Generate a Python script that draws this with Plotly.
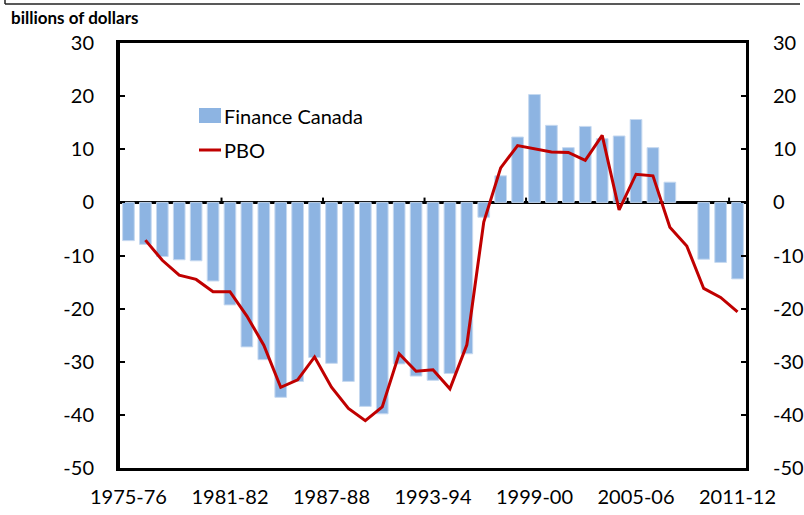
import plotly.graph_objects as go

years = [f"{y}-{str(y + 1)[-2:]}" for y in range(1975, 2012)]

finance_canada = [-7.2, -7.9, -10.2, -10.8, -11.0, -14.8, -19.3, -27.2, -29.6, -36.7,
                  -33.7, -29.2, -30.3, -33.7, -38.4, -39.8, -30.4, -32.7, -33.5, -32.2,
                  -28.5, -2.8, 5.0, 12.3, 20.3, 14.5, 10.3, 14.3, 12.0, 12.5,
                  15.6, 10.3, 3.8, None, -10.7, -11.3, -14.4]

pbo = [None, -7.1, -10.9, -13.7, -14.5, -16.8, -16.8, -21.4, -26.9, -34.8,
       -33.4, -29.1, -34.8, -38.8, -41.1, -38.5, -28.5, -31.8, -31.5, -35.1,
       -26.8, -3.7, 6.5, 10.7, 10.1, 9.5, 9.4, 7.9, 12.6, -1.4,
       5.3, 5.0, -4.7, -8.2, -16.2, -17.9, -20.6]

tick_labels = years[::6]
y_ticks = [30, 20, 10, 0, -10, -20, -30, -40, -50]
y_tick_text = [str(v) for v in y_ticks]

FONT = "Lato"
BAR_COLOR = "#8DB4E2"
LINE_COLOR = "#C00000"

W, H = 804, 515
L, R, T, B = 120, 58, 43, 47
PW, PH = W - L - R, H - T - B


def px(x):
    return (x - L) / PW


def py(y):
    return (H - B - y) / PH


fig = go.Figure()
fig.add_trace(go.Bar(
    x=years, y=finance_canada, name="Finance Canada", showlegend=False,
    marker=dict(color=BAR_COLOR, line=dict(color="#C6D9F0", width=1)),
))
fig.add_trace(go.Scatter(
    x=years, y=pbo, name="PBO", mode="lines", showlegend=False,
    line=dict(color=LINE_COLOR, width=3),
))
# invisible trace to activate the right axis
fig.add_trace(go.Scatter(x=years, y=pbo, yaxis="y2", mode="lines",
                         line=dict(width=0), hoverinfo="skip", showlegend=False,
                         opacity=0))

# category tick marks on the zero line (every 6 categories)
for k in range(6, len(years), 6):
    fig.add_shape(type="line", xref="x", yref="y", x0=k - 0.5, x1=k - 0.5,
                  y0=0, y1=0.9, line=dict(color="black", width=2))

# clipped title box at the very top
fig.add_shape(type="line", xref="paper", yref="paper", x0=px(5), x1=px(800),
              y0=py(4), y1=py(4), line=dict(color="#222", width=1.5))
fig.add_shape(type="line", xref="paper", yref="paper", x0=px(5), x1=px(5),
              y0=py(4), y1=py(-2), line=dict(color="#222", width=1.5))

fig.add_annotation(text="<b>billions of dollars</b>", xref="paper", yref="paper",
                   x=px(9), y=py(18), xanchor="left", yanchor="middle",
                   showarrow=False, font=dict(family=FONT, size=17, color="black"))

# manual legend
fig.add_shape(type="rect", xref="paper", yref="paper", x0=px(199), x1=px(221),
              y0=py(123), y1=py(108), line=dict(width=0), fillcolor=BAR_COLOR)
fig.add_annotation(text="Finance Canada", xref="paper", yref="paper",
                   x=px(222), y=py(116), xanchor="left", yanchor="middle",
                   showarrow=False, font=dict(family=FONT, size=20, color="black"))
fig.add_shape(type="line", xref="paper", yref="paper", x0=px(199), x1=px(221),
              y0=py(150), y1=py(150), line=dict(color=LINE_COLOR, width=3))
fig.add_annotation(text="PBO", xref="paper", yref="paper",
                   x=px(222), y=py(150), xanchor="left", yanchor="middle",
                   showarrow=False, font=dict(family=FONT, size=20, color="black"))

fig.update_layout(
    width=W, height=H,
    margin=dict(l=L, r=R, t=T, b=B, autoexpand=False),
    paper_bgcolor="white", plot_bgcolor="white",
    font=dict(family=FONT, size=20, color="black"),
    bargap=0.31,
    showlegend=False,
    xaxis=dict(
        type="category", tickmode="array", tickvals=tick_labels, ticktext=tick_labels,
        showline=True, linecolor="black", linewidth=3, mirror=True,
        ticks="", showgrid=False, ticklabelstandoff=9, automargin=False,
        range=[-0.5, len(years) - 0.5],
    ),
    yaxis=dict(
        range=[-50, 30], tickmode="array", tickvals=y_ticks, ticktext=y_tick_text,
        showgrid=False, showline=True, linecolor="black", linewidth=4, mirror=False,
        ticks="inside", ticklen=5, tickwidth=2, tickcolor="black",
        zeroline=True, zerolinecolor="black", zerolinewidth=3,
        ticklabelstandoff=18, automargin=False,
    ),
    yaxis2=dict(
        range=[-50, 30], tickmode="array", tickvals=y_ticks, ticktext=y_tick_text,
        overlaying="y", side="right",
        showgrid=False, showline=True, linecolor="black", linewidth=3,
        ticks="inside", ticklen=5, tickwidth=2, tickcolor="black",
        zeroline=False, ticklabelstandoff=20, automargin=False,
    ),
)

fig.write_html(
    "out.html",
    config={"displayModeBar": False},
    post_script="document.body.style.margin='0';document.body.style.overflow='hidden';",
)
